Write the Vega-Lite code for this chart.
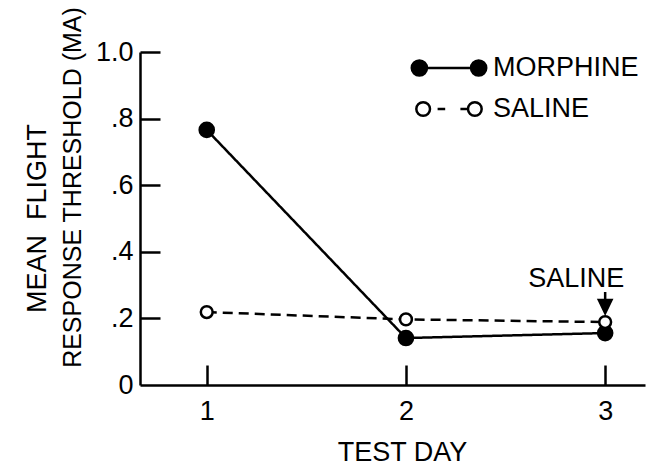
{
  "$schema": "https://vega.github.io/schema/vega-lite/v6.json",
  "width": 505,
  "height": 333,
  "autosize": "none",
  "padding": {"left": 140, "top": 52, "right": 3, "bottom": 82},
  "title": {"text": "MEAN\u00a0 FLIGHT", "orient": "left", "anchor": "middle", "fontSize": 27, "font": "Liberation Sans", "fontWeight": "normal", "color": "black", "offset": 8},
  "config": {
    "view": {"stroke": null},
    "font": "Liberation Sans",
    "axis": {
      "grid": false,
      "domainColor": "black",
      "domainWidth": 2.5,
      "tickColor": "black",
      "tickWidth": 2.5,
      "labelFontSize": 27,
      "labelColor": "black",
      "labelFont": "Liberation Sans",
      "titleFont": "Liberation Sans",
      "titleFontSize": 27,
      "titleColor": "black",
      "titleFontWeight": "normal",
      "labelFlush": false,
      "labelOverlap": false,
      "labelBound": false
    }
  },
  "resolve": {"axis": {"x": "independent", "y": "independent"}},
  "datasets": {
    "series": [
      {"series": "MORPHINE", "day": 1, "value": 0.766},
      {"series": "MORPHINE", "day": 2, "value": 0.141},
      {"series": "MORPHINE", "day": 3, "value": 0.156},
      {"series": "SALINE", "day": 1, "value": 0.219},
      {"series": "SALINE", "day": 2, "value": 0.197},
      {"series": "SALINE", "day": 3, "value": 0.189}
    ],
    "note": [
      {"day": 3, "value": 0.189, "note": "SALINE"}
    ]
  },
  "layer": [
    {
      "data": {"name": "series"},
      "mark": {"type": "line", "color": "black", "strokeWidth": 2.5},
      "encoding": {
        "x": {
          "field": "day", "type": "quantitative",
          "scale": {"domain": [0.665, 3.2], "nice": false, "zero": false},
          "axis": {"orient": "bottom", "values": [1, 2, 3], "format": "d", "title": "TEST DAY", "titleX": 262, "ticks": false, "labelPadding": 13, "titlePadding": 15}
        },
        "y": {
          "field": "value", "type": "quantitative",
          "scale": {"domain": [0, 1], "nice": false, "zero": false},
          "axis": {
            "orient": "left",
            "values": [0, 0.2, 0.4, 0.6, 0.8, 1],
            "labelExpr": "datum.value == 0 ? '0' : datum.value == 1 ? '1.0' : replace(format(datum.value, '.1f'), '0.', '.')",
            "title": "RESPONSE THRESHOLD (MA)",
            "titleFontSize": 25,
            "titleY": 135,
            "ticks": false,
            "labelPadding": 7,
            "titlePadding": 10
          }
        },
        "detail": {"field": "series", "type": "nominal"},
        "strokeDash": {"condition": {"test": "datum.series === 'SALINE'", "value": [10, 6]}, "value": [1, 0]}
      }
    },
    {
      "data": {"name": "series"},
      "mark": {"type": "point", "shape": "circle", "filled": true, "stroke": "black", "strokeWidth": 2.5, "opacity": 1},
      "encoding": {
        "x": {"field": "day", "type": "quantitative",
          "axis": {"orient": "bottom", "values": [1, 2, 3], "domain": false, "labels": false, "title": null, "ticks": true, "tickSize": 20, "offset": -20}},
        "y": {"field": "value", "type": "quantitative",
          "axis": {"orient": "left", "values": [0.2, 0.4, 0.6, 0.8, 1], "domain": false, "labels": false, "title": null, "ticks": true, "tickSize": 20, "offset": -20}},
        "size": {"condition": {"test": "datum.series === 'MORPHINE'", "value": 200}, "value": 140},
        "fill": {
          "field": "series", "type": "nominal",
          "scale": {"domain": ["MORPHINE", "SALINE"], "range": ["black", "white"]},
          "legend": {
            "title": null,
            "orient": "none",
            "legendX": 269.5,
            "legendY": -1.5,
            "padding": 0,
            "clipHeight": 35,
            "rowPadding": 6,
            "labelOffset": 4.5,
            "labelFontSize": 27,
            "labelColor": "black",
            "labelFont": "Liberation Sans",
            "symbolSize": 5776,
            "symbolStrokeColor": "black",
            "symbolStrokeWidth": 2.5,
            "encoding": {
              "symbols": {
                "shape": {
                  "condition": {"test": "datum.value === 'SALINE'", "value": "M-0.86,0C-0.86,-0.0994,-0.7794,-0.18,-0.68,-0.18C-0.5806,-0.18,-0.5,-0.0994,-0.5,0C-0.5,0.0994,-0.5806,0.18,-0.68,0.18C-0.7794,0.18,-0.86,0.0994,-0.86,0ZM0.5,0C0.5,-0.0994,0.5806,-0.18,0.68,-0.18C0.7794,-0.18,0.86,-0.0994,0.86,0C0.86,0.0994,0.7794,0.18,0.68,0.18C0.5806,0.18,0.5,0.0994,0.5,0ZM-0.3,0L-0.1,0M0.3,0L0.5,0"},
                  "value": "M-0.98,0C-0.98,-0.1105,-0.8905,-0.2,-0.78,-0.2C-0.6695,-0.2,-0.58,-0.1105,-0.58,0C-0.58,0.1105,-0.6695,0.2,-0.78,0.2C-0.8905,0.2,-0.98,0.1105,-0.98,0ZM0.58,0C0.58,-0.1105,0.6695,-0.2,0.78,-0.2C0.8905,-0.2,0.98,-0.1105,0.98,0C0.98,0.1105,0.8905,0.2,0.78,0.2C0.6695,0.2,0.58,0.1105,0.58,0ZM-0.58,0L0.58,0"
                },
                "size": {"value": 5776},
                "stroke": {"value": "black"},
                "strokeWidth": {"value": 2.5},
                "opacity": {"value": 1}
              }
            }
          }
        }
      }
    },
    {
      "data": {"name": "note"},
      "mark": {"type": "text", "fontSize": 27, "font": "Liberation Sans", "color": "black", "baseline": "alphabetic", "align": "center", "dx": -29, "dy": -35},
      "encoding": {
        "x": {"field": "day", "type": "quantitative", "axis": null},
        "y": {"field": "value", "type": "quantitative", "axis": null},
        "text": {"field": "note"}
      }
    },
    {
      "data": {"name": "note"},
      "mark": {"type": "point", "shape": "M0,-1L0,0 M-0.6,-0.24L0,1L0.6,-0.24Z", "size": 441, "filled": true, "fill": "black", "stroke": "black", "strokeWidth": 2.5, "opacity": 1, "yOffset": -19.5},
      "encoding": {
        "x": {"field": "day", "type": "quantitative", "axis": null},
        "y": {"field": "value", "type": "quantitative", "axis": null}
      }
    }
  ]
}
